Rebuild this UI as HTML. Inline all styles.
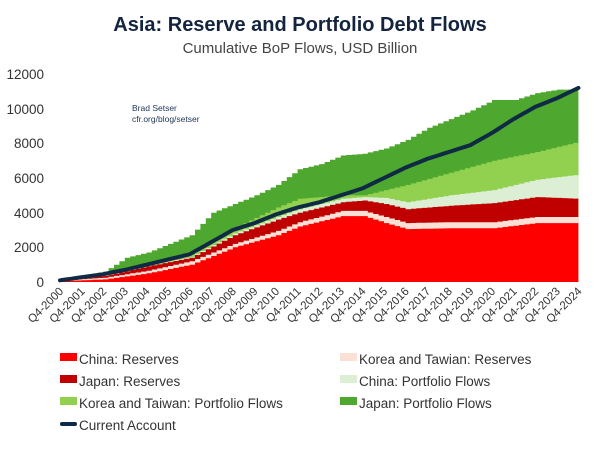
<!DOCTYPE html>
<html><head><meta charset="utf-8"><style>
body{margin:0;background:#fff;width:600px;height:452px;overflow:hidden;font-family:"Liberation Sans",sans-serif}
</style></head><body>
<svg id="s" width="600" height="452" viewBox="0 0 600 452" xmlns="http://www.w3.org/2000/svg" font-family="Liberation Sans, sans-serif">
<text x="300" y="31" text-anchor="middle" font-size="20" font-weight="bold" fill="#14243f">Asia: Reserve and Portfolio Debt Flows</text>
<text x="300" y="53" text-anchor="middle" font-size="15" fill="#444">Cumulative BoP Flows, USD Billion</text>
<g font-size="13.5" fill="#333" text-anchor="end">
<text x="44" y="79">12000</text><text x="44" y="114">10000</text><text x="44" y="148">8000</text>
<text x="44" y="183">6000</text><text x="44" y="218">4000</text><text x="44" y="252">2000</text><text x="44" y="287">0</text>
</g>
<g id="areas"></g>
<text x="132" y="111" font-size="8.5" fill="#1f3557">Brad Setser</text>
<text x="132" y="122" font-size="8.5" fill="#1f3557">cfr.org/blog/setser</text>
<g id="xl" font-size="11.5" fill="#333" text-anchor="end">
<text transform="translate(64,292) rotate(-45)">Q4-2000</text>
<text transform="translate(85.6,292) rotate(-45)">Q4-2001</text>
<text transform="translate(107.2,292) rotate(-45)">Q4-2002</text>
<text transform="translate(128.8,292) rotate(-45)">Q4-2003</text>
<text transform="translate(150.4,292) rotate(-45)">Q4-2004</text>
<text transform="translate(172,292) rotate(-45)">Q4-2005</text>
<text transform="translate(193.6,292) rotate(-45)">Q4-2006</text>
<text transform="translate(215.2,292) rotate(-45)">Q4-2007</text>
<text transform="translate(236.8,292) rotate(-45)">Q4-2008</text>
<text transform="translate(258.4,292) rotate(-45)">Q4-2009</text>
<text transform="translate(280,292) rotate(-45)">Q4-2010</text>
<text transform="translate(301.6,292) rotate(-45)">Q4-2011</text>
<text transform="translate(323.2,292) rotate(-45)">Q4-2012</text>
<text transform="translate(344.8,292) rotate(-45)">Q4-2013</text>
<text transform="translate(366.4,292) rotate(-45)">Q4-2014</text>
<text transform="translate(388,292) rotate(-45)">Q4-2015</text>
<text transform="translate(409.6,292) rotate(-45)">Q4-2016</text>
<text transform="translate(431.2,292) rotate(-45)">Q4-2017</text>
<text transform="translate(452.8,292) rotate(-45)">Q4-2018</text>
<text transform="translate(474.4,292) rotate(-45)">Q4-2019</text>
<text transform="translate(496,292) rotate(-45)">Q4-2020</text>
<text transform="translate(517.6,292) rotate(-45)">Q4-2021</text>
<text transform="translate(539.2,292) rotate(-45)">Q4-2022</text>
<text transform="translate(560.8,292) rotate(-45)">Q4-2023</text>
<text transform="translate(582.4,292) rotate(-45)">Q4-2024</text>
</g>
<g font-size="13.5" fill="#333">
<rect x="60" y="353" width="17" height="8" fill="#ff0000"/><text x="79" y="364">China: Reserves</text>
<rect x="60" y="375" width="17" height="8" fill="#c00000"/><text x="79" y="386">Japan: Reserves</text>
<rect x="60" y="397" width="17" height="8" fill="#92d050"/><text x="79" y="408">Korea and Taiwan: Portfolio Flows</text>
<rect x="60" y="422" width="17" height="4" rx="2" fill="#0f2a44"/><text x="79" y="430">Current Account</text>
<rect x="340" y="353" width="17" height="8" fill="#fbe0d6"/><text x="359" y="364">Korea and Tawian: Reserves</text>
<rect x="340" y="375" width="17" height="8" fill="#dcefd4"/><text x="359" y="386">China: Portfolio Flows</text>
<rect x="340" y="397" width="17" height="8" fill="#4ea72e"/><text x="359" y="408">Japan: Portfolio Flows</text>
</g>
</svg>
<script>
(function(){
var NS="http://www.w3.org/2000/svg";
var g=document.getElementById("areas");
var Y=[2000,2002,2004,2006,2008,2010,2011,2013,2014,2015,2016,2018,2020,2022,2024];
var cr=[0.05,0.15,0.5,1.0,2.0,2.7,3.2,3.8,3.8,3.4,3.05,3.1,3.1,3.4,3.4];
var kr=[0.08,0.25,0.65,1.2,2.2,2.95,3.45,4.1,4.1,3.75,3.4,3.45,3.45,3.75,3.75];
var jr=[0.1,0.35,0.9,1.4,2.7,3.6,4.0,4.6,4.7,4.5,4.2,4.4,4.55,4.9,4.8];
var cp=[0.1,0.36,0.92,1.45,2.8,3.75,4.2,4.8,4.9,4.85,4.6,5.0,5.3,5.9,6.2];
var kp=[0.12,0.4,1.0,1.6,3.1,4.3,4.8,5.0,5.0,5.3,5.6,6.3,7.0,7.5,8.1];
var JY=[2000,2002,2003,2004,2005,2006,2007,2008,2009,2010,2011,2012,2013,2014,2015,2016,2017,2018,2019,2020,2021,2022,2023,2024];
var jp=[0.15,0.6,1.4,1.7,2.2,2.7,4.0,4.5,5.0,5.6,6.5,6.8,7.3,7.4,7.7,8.2,8.9,9.4,9.9,10.5,10.5,10.9,11.1,11.1];
var ca=[0.1,0.45,0.7,1.0,1.3,1.6,2.3,3.0,3.4,3.9,4.3,4.6,5.0,5.4,6.0,6.6,7.1,7.5,7.9,8.6,9.4,10.1,10.6,11.2];
function interp(xs,ys,t){for(var i=0;i<xs.length-1;i++){if(t<=xs[i+1]){var f=(t-xs[i])/(xs[i+1]-xs[i]);return ys[i]+f*(ys[i+1]-ys[i]);}}return ys[ys.length-1];}
function px(t){return (60+(t-2000)*21.6).toFixed(1);}
function py(v){return (282-v*1000/12000*208).toFixed(1);}
var N=96,ts=[];for(var i=0;i<=N;i++)ts.push(2000+i/4);
function top(xs,ys){var r=[];for(var i=0;i<ts.length;i++)r.push(interp(xs,ys,ts[i]));return r;}
function add(d,attrs){var p=document.createElementNS(NS,"path");p.setAttribute("d",d);for(var k in attrs)p.setAttribute(k,attrs[k]);g.appendChild(p);}
function stepArea(vals,col){var d="M"+px(2000)+","+py(0);for(var i=0;i<=N;i++){var x1=Math.min(ts[i]+0.25,2024);d+=" L"+px(ts[i])+","+py(vals[i])+" L"+px(x1)+","+py(vals[i]);}d+=" L"+px(2024)+","+py(0)+" Z";add(d,{fill:col});}
stepArea(top(JY,jp),"#4ea72e");
stepArea(top(Y,kp),"#92d050");
stepArea(top(Y,cp),"#dcefd4");
stepArea(top(Y,jr),"#c00000");
stepArea(top(Y,kr),"#fbe0d6");
stepArea(top(Y,cr),"#ff0000");
var c=top(JY,ca),d="";for(var i=0;i<=N;i++)d+=(i?" L":"M")+px(ts[i])+","+py(c[i]);
add(d,{fill:"none",stroke:"#0f2a44","stroke-width":"4","stroke-linecap":"round","stroke-linejoin":"round"});
})();
</script>
</body></html>
